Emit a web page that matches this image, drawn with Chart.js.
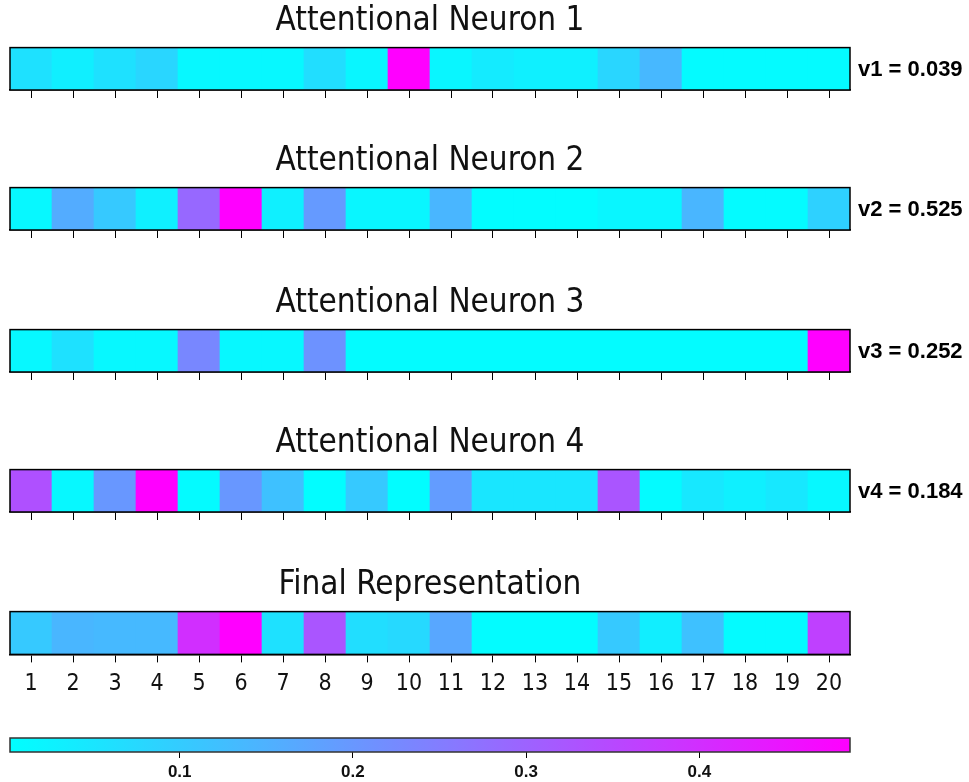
<!DOCTYPE html>
<html>
<head>
<meta charset="utf-8">
<script src="https://cdn.jsdelivr.net/npm/chart.js@4"></script>
<style>
  body { margin: 0; background: #fff; overflow: hidden; }
  .row { position: absolute; left: 0; width: 969px; }
</style>
</head>
<body>
<div class="row" style="top:0px;height:100px"><canvas id="row1"></canvas></div>
<div class="row" style="top:140px;height:100px"><canvas id="row2"></canvas></div>
<div class="row" style="top:282px;height:100px"><canvas id="row3"></canvas></div>
<div class="row" style="top:422px;height:100px"><canvas id="row4"></canvas></div>
<div class="row" style="top:564px;height:144px"><canvas id="row5"></canvas></div>
<div class="row" style="top:730px;height:52px"><canvas id="colorbar"></canvas></div>
<script>
// positions 1..20
const posiciones = ['1','2','3','4','5','6','7','8','9','10','11','12','13','14','15','16','17','18','19','20']

const neurona1 = [0.060, 0.032, 0.060, 0.080, 0.015, 0.015, 0.015, 0.065, 0.019, 0.487,
                  0.019, 0.040, 0.030, 0.030, 0.080, 0.137, 0.010, 0.010, 0.010, 0.010]
const neurona2 = [0.015, 0.160, 0.105, 0.030, 0.290, 0.487, 0.030, 0.195, 0.020, 0.020,
                  0.140, 0.005, 0.005, 0.005, 0.020, 0.020, 0.140, 0.010, 0.010, 0.090]
const neurona3 = [0.015, 0.060, 0.015, 0.015, 0.230, 0.015, 0.015, 0.210, 0.008, 0.008,
                  0.008, 0.008, 0.008, 0.008, 0.008, 0.008, 0.008, 0.008, 0.008, 0.487]
const neurona4 = [0.335, 0.015, 0.200, 0.487, 0.010, 0.200, 0.120, 0.005, 0.105, 0.005,
                  0.190, 0.050, 0.050, 0.050, 0.325, 0.010, 0.045, 0.030, 0.045, 0.015]
const final    = [0.105, 0.140, 0.135, 0.135, 0.400, 0.487, 0.060, 0.325, 0.065, 0.075,
                  0.170, 0.008, 0.008, 0.008, 0.105, 0.035, 0.120, 0.010, 0.010, 0.365]

const titulos = ['Attentional Neuron 1', 'Attentional Neuron 2', 'Attentional Neuron 3', 'Attentional Neuron 4', 'Final Representation']
const etiquetasV = ['v1 = 0.039', 'v2 = 0.525', 'v3 = 0.252', 'v4 = 0.184', '']

const VMIN = 0.002
const VMAX = 0.487
const ticksColorbar = [0.1, 0.2, 0.3, 0.4]

// matplotlib "cool" colormap
function cool(v) {
  let t = (v - VMIN) / (VMAX - VMIN)
  t = Math.max(0, Math.min(1, t))
  return 'rgb(' + Math.round(255 * t) + ',' + Math.round(255 * (1 - t)) + ',255)'
}

const marco = {
  id: 'marco',
  afterDatasetsDraw(chart, args, opts) {
    const { ctx, chartArea } = chart
    ctx.save()
    ctx.strokeStyle = opts.color || '#000'
    ctx.lineWidth = opts.width || 1.5
    ctx.strokeRect(chartArea.left, chartArea.top, chartArea.right - chartArea.left, chartArea.bottom - chartArea.top)
    if (opts.texto) {
      ctx.fillStyle = '#000'
      ctx.font = 'bold 22px "Liberation Sans", Arial, sans-serif'
      ctx.textBaseline = 'middle'
      ctx.textAlign = 'left'
      ctx.fillText(opts.texto, chartArea.right + 8, (chartArea.top + chartArea.bottom) / 2 + 1)
    }
    ctx.restore()
  }
}

// colorbar tick labels, placed with the x scale (the layout would squeeze an axis this tall)
const etiquetasBarra = {
  id: 'etiquetasBarra',
  afterDraw(chart) {
    const { ctx, chartArea, scales } = chart
    ctx.save()
    ctx.fillStyle = '#111'
    ctx.font = 'bold 17px "Liberation Sans", Arial, sans-serif'
    ctx.textAlign = 'center'
    ctx.textBaseline = 'top'
    ticksColorbar.forEach(v => {
      ctx.fillText(v.toFixed(1), scales.x.getPixelForValue(v), chartArea.bottom + 12)
    })
    ctx.restore()
  }
}

const filas = [neurona1, neurona2, neurona3, neurona4, final]

filas.forEach((valores, i) => {
  const ultima = i === filas.length - 1
  new Chart(document.getElementById('row' + (i + 1)), {
    type: 'bar',
    data: {
      labels: posiciones,
      datasets: [{
        data: valores.map(() => 1),
        backgroundColor: valores.map(cool),
        borderWidth: 0,
        barPercentage: 1,
        categoryPercentage: 1,
      }],
    },
    options: {
      responsive: true,
      maintainAspectRatio: false,
      animation: false,
      layout: { padding: { left: 10, right: 119, top: 0, bottom: 2 } },
      plugins: {
        legend: { display: false },
        tooltip: { enabled: false },
        title: {
          display: true,
          text: titulos[i],
          color: '#111',
          font: { family: '"DejaVu Sans Condensed", "DejaVu Sans", sans-serif', size: 33, weight: 'normal' },
          padding: { top: 2, bottom: 6 },
        },
        marco: { texto: etiquetasV[i] },
      },
      scales: {
        x: {
          offset: true,
          grid: { display: true, offset: false, drawOnChartArea: false, drawTicks: true, tickLength: 8, color: '#000' },
          border: { display: true, color: '#000', width: 1.5 },
          ticks: {
            display: ultima,
            color: '#111',
            padding: 8,
            maxRotation: 0,
            autoSkip: false,
            font: { family: '"DejaVu Sans Condensed", "DejaVu Sans", sans-serif', size: 23 },
          },
        },
        y: { display: false, min: 0, max: 1 },
      },
    },
    plugins: [marco],
  })
})

// colorbar
new Chart(document.getElementById('colorbar'), {
  type: 'bar',
  data: {
    labels: [''],
    datasets: [{
      data: [[VMIN, VMAX]],
      backgroundColor: (c) => {
        const area = c.chart.chartArea
        if (!area) return '#0ff'
        const g = c.chart.ctx.createLinearGradient(area.left, 0, area.right, 0)
        g.addColorStop(0, cool(VMIN))
        g.addColorStop(0.5, cool((VMIN + VMAX) / 2))
        g.addColorStop(1, cool(VMAX))
        return g
      },
      borderWidth: 0,
      barPercentage: 1,
      categoryPercentage: 1,
    }],
  },
  options: {
    indexAxis: 'y',
    responsive: true,
    maintainAspectRatio: false,
    animation: false,
    layout: { padding: { left: 10, right: 119, top: 8, bottom: 24 } },
    plugins: {
      legend: { display: false },
      tooltip: { enabled: false },
      marco: { color: '#333', width: 1.5 },
    },
    scales: {
      x: {
        min: VMIN,
        max: VMAX,
        afterBuildTicks: (scale) => { scale.ticks = ticksColorbar.map(v => ({ value: v })) },
        grid: { display: true, drawOnChartArea: false, drawTicks: true, tickLength: 6, color: '#000' },
        border: { display: false },
        ticks: { display: false },
      },
      y: { display: false },
    },
  },
  plugins: [marco, etiquetasBarra],
})
</script>
</body>
</html>
